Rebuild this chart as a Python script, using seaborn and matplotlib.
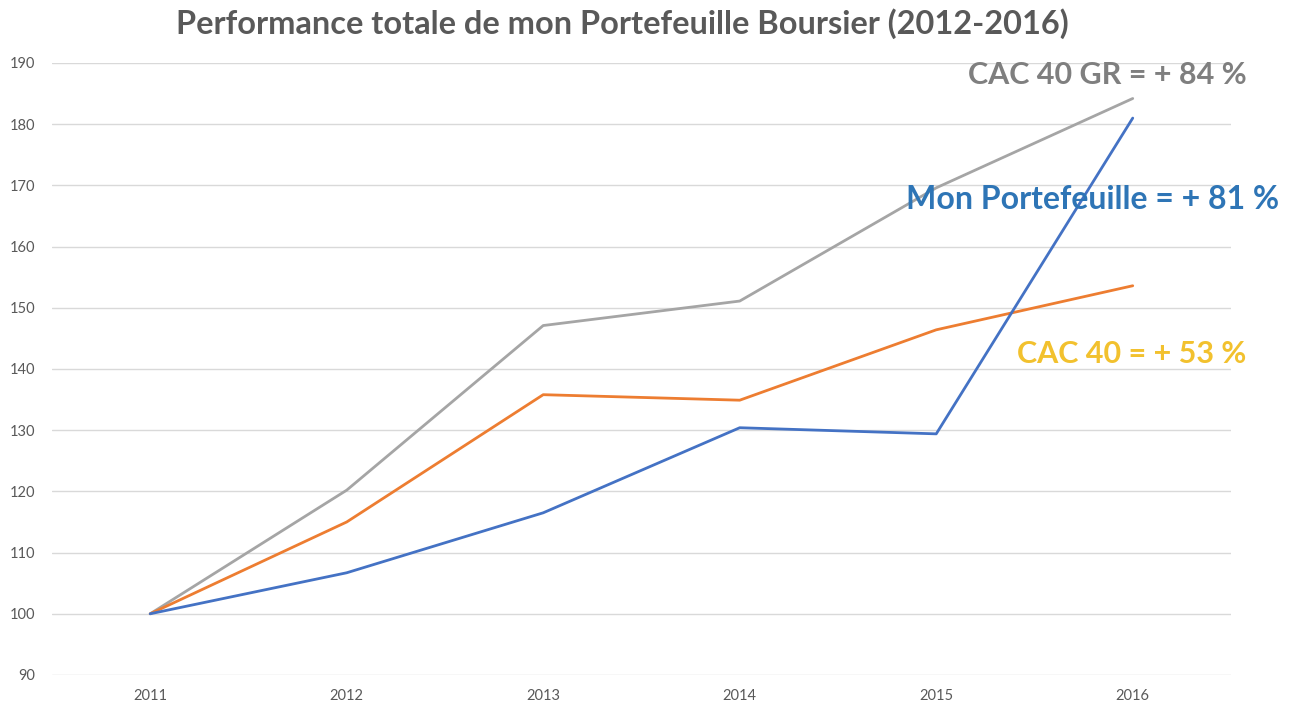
import matplotlib
matplotlib.use('Agg')
import matplotlib.pyplot as plt
import pandas as pd
import seaborn as sns

sns.set_style('white')
plt.rcParams['font.family'] = ['Lato', 'DejaVu Sans']

# data (base 100 in 2011)
years = [2011, 2012, 2013, 2014, 2015, 2016]
portefeuille = [100, 106.7, 116.5, 130.4, 129.4, 181.0]
cac40 = [100, 115.0, 135.8, 134.9, 146.4, 153.6]
cac40_gr = [100, 120.2, 147.1, 151.1, 169.6, 184.2]
series_names = ['Mon Portefeuille', 'CAC 40', 'CAC 40 GR']
labels = ['Mon Portefeuille = + 81 %', 'CAC 40 = + 53 %', 'CAC 40 GR = + 84 %']
yticks = list(range(90, 191, 10))

df = pd.DataFrame({
    'year': years * 3,
    'value': portefeuille + cac40 + cac40_gr,
    'serie': [s for s in series_names for _ in years],
})

line_colors = {'Mon Portefeuille': '#4472C4', 'CAC 40': '#ED7D31', 'CAC 40 GR': '#A5A5A5'}
text_colors = ['#2E75B6', '#F2C12E', '#7F7F7F']

fig = plt.figure(figsize=(12.89, 7.07), dpi=100)
ax = fig.add_axes([0.0403, 0.0453, 0.9147, 0.8656])

sns.lineplot(data=df, x='year', y='value', hue='serie', palette=line_colors,
             hue_order=['CAC 40 GR', 'CAC 40', 'Mon Portefeuille'],
             linewidth=2.0, legend=False, ax=ax)

ax.set_xlim(2010.5, 2016.5)
ax.set_ylim(90, 190)
ax.set_xticks(years)
ax.set_yticks(yticks)
ax.grid(axis='y', color='#D9D9D9', linewidth=1.0)
ax.grid(axis='x', visible=False)
ax.set_axisbelow(True)
sns.despine(left=True, bottom=True)
ax.tick_params(length=0, labelsize=10.5, labelcolor='#595959')
ax.tick_params(axis='y', pad=12)
ax.tick_params(axis='x', pad=10)
ax.set_xlabel('')
ax.set_ylabel('')

# annotations
ax.text(2015.795, 167.7, labels[0], color=text_colors[0], fontsize=23,
        fontweight='bold', ha='center', va='center')
ax.text(2015.995, 142.4, labels[1], color=text_colors[1], fontsize=22,
        fontweight='bold', ha='center', va='center')
ax.text(2015.87, 188.0, labels[2], color=text_colors[2], fontsize=22,
        fontweight='bold', ha='center', va='center')

fig.text(0.483, 0.967, 'Performance totale de mon Portefeuille Boursier (2012-2016)',
         color='#595959', fontsize=23.4, fontweight='bold', ha='center', va='center')

fig.savefig('out.png', dpi=100)
